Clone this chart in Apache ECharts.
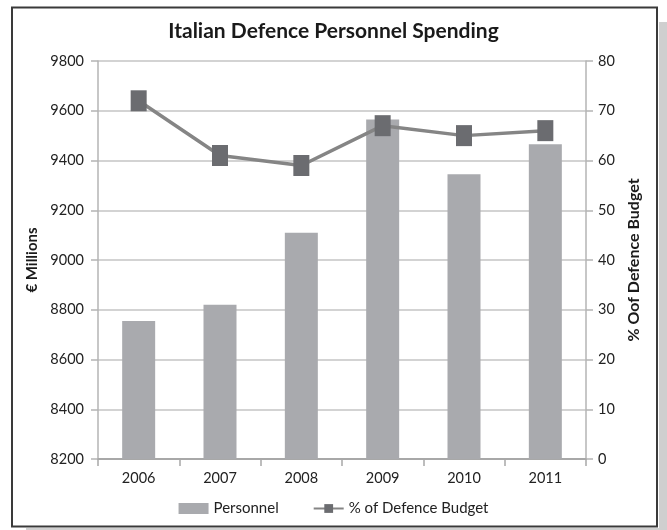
<!DOCTYPE html>
<html>
<head>
<meta charset="utf-8">
<script src="https://cdn.jsdelivr.net/npm/echarts@6/dist/echarts.min.js"></script>
<style>
html,body{margin:0;padding:0;background:#fff;}
#chart{width:667px;height:530px;}
</style>
</head>
<body>
<div id="chart"></div>
<script>
const categories = ['2006','2007','2008','2009','2010','2011'];
const personnel = [8755, 8820, 9110, 9565, 9345, 9465];
const budgetShare = [72, 61, 59, 67, 65, 66];
const leftTicks = {min: 8200, max: 9800, interval: 200};
const rightTicks = {min: 0, max: 80, interval: 10};

const FONT = 'Lato, "Open Sans", sans-serif';
const chart = echarts.init(document.getElementById('chart'), null, {renderer: 'canvas'});
chart.setOption({
  backgroundColor: '#fff',
  animation: false,
  title: {
    text: 'Italian Defence Personnel Spending',
    left: 'center', top: 16,
    textStyle: {fontFamily: FONT, fontWeight: 'bold', fontSize: 21, color: '#1a1a1a'}
  },
  graphic: [
    {type: 'rect', shape: {x: 659, y: 22, width: 8, height: 508}, style: {fill: '#cfcfcf'}, z: 0},
    {type: 'rect', shape: {x: 26, y: 528, width: 641, height: 2}, style: {fill: '#cfcfcf'}, z: 0},
    {type: 'rect', shape: {x: 12, y: 7.5, width: 645, height: 519}, style: {fill: 'none', stroke: '#3a3a3a', lineWidth: 2}, z: 0}
  ],
  legend: {
    bottom: 9, left: 'center', itemGap: 34,
    textStyle: {fontFamily: FONT, fontSize: 15, color: '#222'},
    data: [
      {name: 'Personnel', icon: 'rect', itemStyle: {color: '#a9aaae'}},
      {name: '% of Defence Budget'}
    ],
    itemWidth: 30, itemHeight: 11
  },
  grid: {left: 98, right: 81, top: 61, bottom: 71},
  xAxis: {
    type: 'category', data: categories, boundaryGap: true,
    axisLine: {lineStyle: {color: '#a8a8a8', width: 2}},
    axisTick: {show: true, length: 7, lineStyle: {color: '#a8a8a8', width: 1.5}},
    axisLabel: {fontFamily: FONT, fontSize: 14.5, color: '#222', margin: 12}
  },
  yAxis: [
    {
      type: 'value', min: leftTicks.min, max: leftTicks.max, interval: leftTicks.interval,
      name: '€ Millions', nameLocation: 'middle', nameRotate: 90, nameGap: 50,
      nameTextStyle: {fontFamily: FONT, fontWeight: 'bold', fontSize: 15, color: '#1a1a1a'},
      axisLine: {show: true, lineStyle: {color: '#b4b4b4', width: 1.5}},
      axisTick: {show: true, length: 7, lineStyle: {color: '#b4b4b4', width: 1.5}},
      axisLabel: {fontFamily: FONT, fontSize: 14.5, color: '#222', margin: 14, formatter: v => String(v)},
      splitLine: {lineStyle: {color: '#c4c4c4', width: 1.5}}
    },
    {
      type: 'value', position: 'right', min: rightTicks.min, max: rightTicks.max, interval: rightTicks.interval,
      name: '% Oof Defence Budget', nameLocation: 'middle', nameRotate: 90, nameGap: 38,
      nameTextStyle: {fontFamily: FONT, fontWeight: 'bold', fontSize: 16, color: '#1a1a1a'},
      axisLine: {show: true, lineStyle: {color: '#b4b4b4', width: 1.5}},
      axisTick: {show: true, length: 7, lineStyle: {color: '#b4b4b4', width: 1.5}},
      axisLabel: {fontFamily: FONT, fontSize: 14.5, color: '#222', margin: 12, formatter: v => String(v)},
      splitLine: {show: false}
    }
  ],
  series: [
    {
      name: 'Personnel', type: 'bar', data: personnel, yAxisIndex: 0,
      barWidth: 33, itemStyle: {color: '#a9aaae'}
    },
    {
      name: '% of Defence Budget', type: 'line', data: budgetShare, yAxisIndex: 1,
      symbol: 'rect', symbolSize: [16, 21],
      lineStyle: {color: '#858585', width: 3.5},
      itemStyle: {color: '#6b6c70', borderWidth: 0}
    }
  ]
});
</script>
</body>
</html>
